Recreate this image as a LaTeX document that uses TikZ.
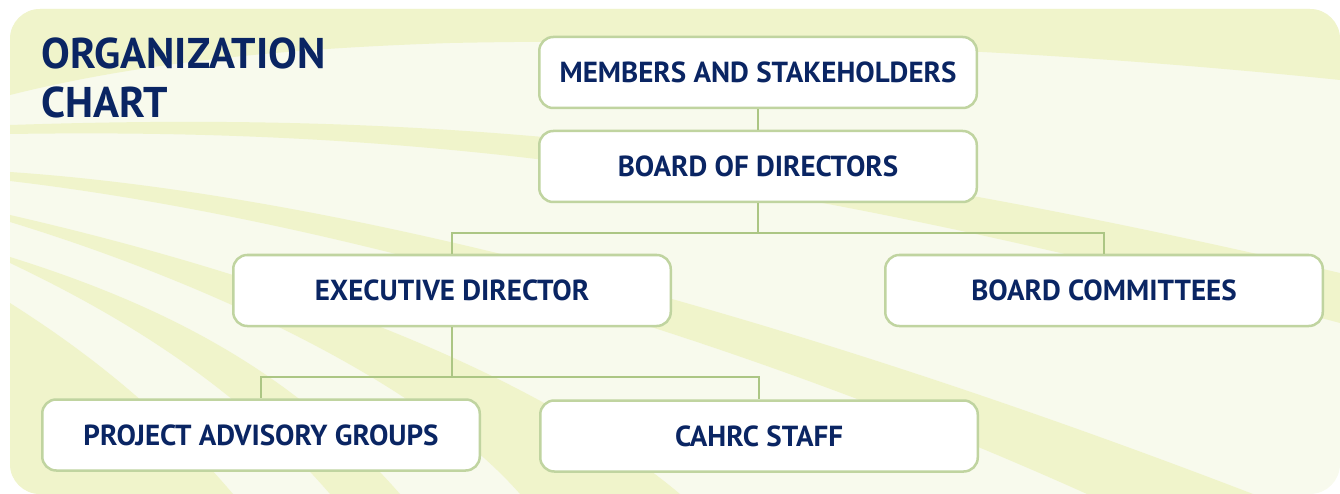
\documentclass[tikz,border=0pt]{standalone}
\usepackage{fontspec}
\usepackage{tikz}
\usepackage{xcolor}
\newfontfamily\chartfont{PT Sans}
\definecolor{panellight}{RGB}{248,250,237}
\definecolor{paneldark}{RGB}{240,244,203}
\definecolor{boxline}{RGB}{192,212,160}
\definecolor{linegreen}{RGB}{172,198,132}
\definecolor{titlenavy}{RGB}{10,37,99}
\begin{document}
\begin{tikzpicture}[x=1pt,y=1pt]
\tikzstyle{every node}+=[inner sep=0pt]
\tikzstyle{orgbox}=[draw=boxline, line width=2.5pt, fill=white, rounded corners=14pt, minimum width=437.5pt, minimum height=71pt, text=titlenavy, text height=20.3pt, text depth=0pt, font=\chartfont\bfseries\fontsize{29}{33}\selectfont]
\tikzstyle{orgline}=[draw=linegreen, line width=2pt]
\useasboundingbox (0,0) rectangle (1340,-494);
\begin{scope}
\clip [rounded corners=30pt] (10,-9) rectangle (1340,-494);
\fill [panellight] (0,0) rectangle (1340,-494);
\fill [paneldark] (0,0) -- (0,-95) -- (10,-95) .. controls (150,-60) and (300,-48) .. (450,-43) .. controls (700,-38) and (1000,-45) .. (1340,-80) -- (1340,0) -- cycle;
\fill [paneldark] (0,-125) -- (10,-125) .. controls (400,-112) and (750,-135) .. (1340,-273) -- (1340,-323) .. controls (750,-165) and (400,-128) .. (10,-134) -- (0,-134) -- cycle;
\fill [paneldark] (0,-172) -- (10,-172) .. controls (350,-195) and (800,-320) .. (1253,-494) -- (1087,-494) .. controls (700,-320) and (300,-215) .. (10,-181) -- (0,-181) -- cycle;
\fill [paneldark] (0,-215) -- (10,-215) .. controls (250,-270) and (520,-360) .. (680,-494) -- (520,-494) .. controls (420,-380) and (200,-280) .. (10,-222) -- (0,-222) -- cycle;
\fill [paneldark] (0,-257) -- (10,-257) .. controls (180,-310) and (300,-380) .. (400,-494) -- (330,-494) .. controls (240,-390) and (130,-320) .. (10,-263) -- (0,-263) -- cycle;
\fill [paneldark] (0,-303) -- (10,-303) .. controls (100,-360) and (170,-420) .. (233,-494) -- (0,-494) -- cycle;
\end{scope}
\node [anchor=north west, align=left, text=titlenavy, font=\chartfont\bfseries\fontsize{43}{49}\selectfont] (title) at (41,-38) {ORGANIZATION\\CHART};
\node [orgbox] (ms) at (758,-72.5) {MEMBERS AND STAKEHOLDERS};
\node [orgbox] (bod) at (758,-166.5) {BOARD OF DIRECTORS};
\node [orgbox] (ed) at (452,-290.5) {EXECUTIVE DIRECTOR};
\node [orgbox] (bc) at (1104,-290.5) {BOARD COMMITTEES};
\node [orgbox] (pag) at (261,-435) {PROJECT ADVISORY GROUPS};
\node [orgbox] (cs) at (759,-436) {CAHRC STAFF};
\coordinate (split1) at (758,-233);
\coordinate (split2) at (452,-377);
\draw [orgline] (ms.south) -- (bod.north);
\draw [orgline] (bod.south) -- (split1);
\draw [orgline] (split1) -| (ed.north);
\draw [orgline] (split1) -| (bc.north);
\draw [orgline] (ed.south) -- (split2);
\draw [orgline] (split2) -| (pag.north);
\draw [orgline] (split2) -| (cs.north);
\end{tikzpicture}
\end{document}
